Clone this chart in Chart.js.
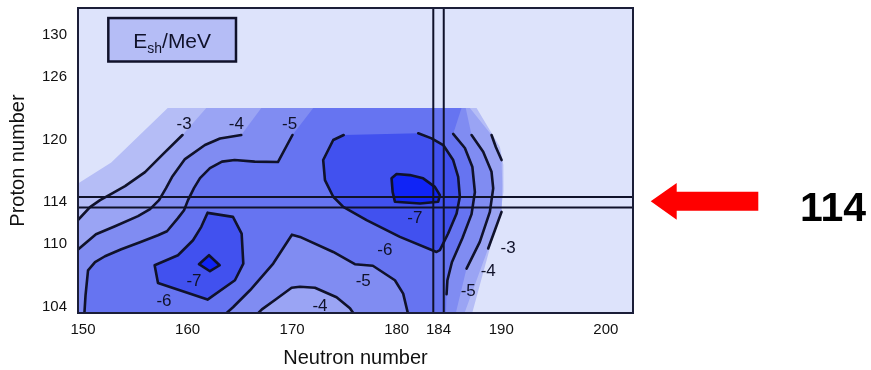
<!DOCTYPE html>
<html>
<head>
<meta charset="utf-8">
<script src="https://cdn.jsdelivr.net/npm/chart.js@4/dist/chart.umd.min.js"></script>
<style>
  html, body { margin: 0; padding: 0; background: #ffffff; }
  #wrap { width: 871px; height: 370px; }
</style>
</head>
<body>
<div id="wrap"><canvas id="c" width="871" height="370"></canvas></div>
<script>
// Axis extents and tick values (neutron number N, proton number Z)
const nRange = [149.52, 202.6];
const zRange = [103.43, 132.56];
const neutronTicks = [150, 160, 170, 180, 184, 190, 200];
const protonTicks = [104, 110, 114, 120, 126, 130];

// Magic numbers marked with double lines
const shellN = [183.5, 184.5];
const shellZ = [113.5, 114.5];
const highlightZ = 114;

// Upper edge of the calculated region
const domainTop = 123;

// Shell-correction contours, [N, Z] pairs
const m3Left = [[149.33,112.11],[150.67,113.54],[151.63,114.21],[152.58,114.74],[154.02,115.55],[155.93,116.89],[157.65,118.61],[159.51,120.43]];
const m3RightUpper = [[189.07,120.43],[189.48,119.28],[190.03,118.04]];
const m3RightLower = [[190.03,113.09],[189.39,111.34],[188.75,109.59]];

const m4Left = [[149.33,109.33],[151.24,110.95],[153.06,111.72],[155.26,112.68],[156.41,113.35],[157.27,114.21],[157.94,115.36],[158.51,116.41],[159.75,118.13],[161.66,119.47],[163.10,120.10],[165.13,120.43]];
const m4Right = [[187.16,120.43],[188.27,118.83],[189.07,116.92],[189.23,115.33],[188.91,113.09],[187.95,110.22],[186.68,107.67]];
const m4Bump = [[166.54,103.2],[167.11,103.78],[168.45,104.74],[169.95,105.84],[170.75,105.93],[172.18,105.84],[174.25,104.93],[175.53,103.88],[176.00,103.2]];

const m5Left = [[150.12,103.2],[150.24,105.12],[150.48,107.51],[151.15,108.28],[152.10,108.85],[153.66,109.52],[155.45,110.19],[157.17,110.86],[158.03,111.24],[159.08,112.49],[159.66,113.25],[160.04,114.21],[160.61,115.36],[161.19,116.31],[162.14,117.27],[163.29,117.89],[164.50,118.04],[166.42,117.89],[168.64,117.85],[170.03,120.43]];
const m5Right = [[185.40,120.53],[186.52,119.19],[187.24,117.37],[187.48,114.98],[187.16,112.87],[186.28,110.57],[185.28,108.28],[184.85,106.56],[184.77,105.22]];
const m5Bump = [[163.48,103.2],[164.37,104.00],[165.97,105.60],[168.19,108.15],[169.98,110.91],[170.75,110.70],[173.93,109.26],[176.00,108.09],[177.72,107.94],[179.83,106.56],[180.62,105.28],[181.12,103.2]];

const m6Left = [[161.91,112.99],[164.34,112.61],[165.17,111.02],[165.33,108.15],[164.53,106.56],[161.91,104.71],[157.17,106.30],[156.85,107.99],[159.08,108.95],[160.52,110.38],[161.31,111.66],[161.91,112.99]];
const m6Right = [[174.93,120.43],[173.93,119.95],[172.97,118.04],[173.14,116.12],[173.93,114.53],[174.89,113.57],[177.12,112.30],[180.31,110.70],[183.81,109.26],[184.13,109.43],[184.92,111.02],[185.73,112.94],[186.04,114.53],[185.88,116.44],[185.40,118.04],[184.45,119.47],[183.34,120.11],[182.06,120.59]];

const m7Left = [[161.09,108.09],[162.05,108.95],[163.07,107.99],[162.14,107.42],[161.09,108.09]];
const m7Right = [[179.51,116.29],[179.99,116.70],[181.26,116.60],[182.53,116.29],[183.65,115.48],[184.13,114.69],[183.97,114.05],[182.24,113.89],[179.83,114.05],[179.61,115.00],[179.51,116.29]];

// Outer (-2 MeV) shaded edge, no line drawn
const m2Outline = [[149.3,103.2],[149.3,115.65],[152.7,117.8],[158.1,123.0],[187.64,123.0],[189.87,119.29],[190.2,117.6],[190.21,115.0],[190.03,113.73],[187.16,103.2]];

// Where the shaded bands meet the top edge [left, right] and the bottom edge
const bandTopN = { m3: [161.79, 187.0], m4: [167.05, 186.6], m5: [172.02, 186.2] };
const bandBottomN = { m3: 186.4, m4: 185.6, m5: 184.7 };
const m3Gap = [190.1, 115.6];

// Contour labels: text, N, Z
const contourLabels = [
  ['-3', 159.66, 121.6], ['-4', 164.66, 121.6], ['-5', 169.76, 121.6],
  ['-6', 157.74, 104.64], ['-7', 160.61, 106.56],
  ['-5', 176.80, 106.56], ['-4', 172.66, 104.16],
  ['-6', 178.87, 109.59], ['-7', 181.74, 112.61],
  ['-3', 190.66, 109.74], ['-4', 188.75, 107.51], ['-5', 186.84, 105.60]
];

// Key box, in axis units
const keyBox = { n0: 152.42, n1: 164.63, z0: 127.45, z1: 131.6 };

// Colours
const BG = '#dde3fb';
const SHADES = ['#b5bdf6', '#9aa4f4', '#808cf2', '#6674f1', '#4151ef', '#1024f6'];
const LINE = '#10122a';
const FONT = "'Liberation Sans', Arial, sans-serif";

const bottomEdge = 103.2;
const leftEdge = 149.3;

const poly3 = [[leftEdge, bottomEdge], ...m3Left, [bandTopN.m3[0], domainTop], [bandTopN.m3[1], domainTop],
  ...m3RightUpper, m3Gap, ...m3RightLower, [bandBottomN.m3, bottomEdge]];
const poly4 = [[leftEdge, bottomEdge], ...m4Left, [bandTopN.m4[0], domainTop], [bandTopN.m4[1], domainTop],
  ...m4Right, [bandBottomN.m4, bottomEdge], ...m4Bump.slice().reverse()];
const poly5 = [...m5Left, [bandTopN.m5[0], domainTop], [bandTopN.m5[1], domainTop],
  ...m5Right, [bandBottomN.m5, bottomEdge], ...m5Bump.slice().reverse()];

const pts = arr => arr.map(([x, y]) => ({ x, y }));

function shade(arr, color, order) {
  return { data: pts(arr), fill: 'shape', backgroundColor: color, borderWidth: 0,
           borderColor: 'rgba(0,0,0,0)', order, clip: 0 };
}
function contour(arr, order, width) {
  return { data: pts(arr), fill: false, borderColor: LINE, borderWidth: width || 2.6,
           borderJoinStyle: 'round', borderCapStyle: 'round', order, clip: 0 };
}

const datasets = [
  shade(m2Outline, SHADES[0], 20),
  shade(poly3, SHADES[1], 19),
  shade(poly4, SHADES[2], 18),
  shade(poly5, SHADES[3], 17),
  shade(m6Left, SHADES[4], 16),
  shade(m6Right, SHADES[4], 16),
  shade(m7Left, SHADES[5], 15),
  shade(m7Right, SHADES[5], 15),
  contour(m3Left, 5), contour(m3RightUpper, 5), contour(m3RightLower, 5),
  contour(m4Left, 5), contour(m4Right, 5), contour(m4Bump, 5),
  contour(m5Left, 5), contour(m5Right, 5), contour(m5Bump, 5),
  contour(m6Left, 5), contour(m6Right, 5),
  contour(m7Left, 5), contour(m7Right, 5)
];
shellN.forEach(n => datasets.push(contour([[n, zRange[0] - 1], [n, zRange[1] + 1]], 3, 2)));
shellZ.forEach(z => datasets.push(contour([[nRange[0] - 1, z], [nRange[1] + 1, z]], 3, 2)));

const overlay = {
  id: 'overlay',
  beforeDatasetsDraw(chart) {
    const { ctx, chartArea: a } = chart;
    ctx.save();
    ctx.fillStyle = BG;
    ctx.fillRect(a.left, a.top, a.width, a.height);
    ctx.restore();
  },
  afterDatasetsDraw(chart) {
    const { ctx, chartArea: a, scales: { x, y } } = chart;
    ctx.save();
    // contour labels
    ctx.fillStyle = LINE;
    ctx.font = '17px ' + FONT;
    ctx.textAlign = 'center';
    ctx.textBaseline = 'alphabetic';
    contourLabels.forEach(([t, n, z]) => {
      ctx.fillText(t, x.getPixelForValue(n), y.getPixelForValue(z) + 6);
    });
    // key box
    const bx0 = x.getPixelForValue(keyBox.n0), bx1 = x.getPixelForValue(keyBox.n1);
    const by0 = y.getPixelForValue(keyBox.z1), by1 = y.getPixelForValue(keyBox.z0);
    ctx.fillStyle = SHADES[0];
    ctx.fillRect(bx0, by0, bx1 - bx0, by1 - by0);
    ctx.lineWidth = 2.5;
    ctx.strokeStyle = LINE;
    ctx.strokeRect(bx0, by0, bx1 - bx0, by1 - by0);
    const big = '21px ' + FONT, small = '14px ' + FONT;
    ctx.font = big; const wE = ctx.measureText('E').width; const wM = ctx.measureText('/MeV').width;
    ctx.font = small; const wS = ctx.measureText('sh').width;
    let tx = (bx0 + bx1) / 2 - (wE + wS + wM) / 2;
    const base = (by0 + by1) / 2 + 8;
    ctx.fillStyle = LINE;
    ctx.textAlign = 'left';
    ctx.font = big; ctx.fillText('E', tx, base); tx += wE;
    ctx.font = small; ctx.fillText('sh', tx, base + 5); tx += wS;
    ctx.font = big; ctx.fillText('/MeV', tx, base);
    // frame
    ctx.lineWidth = 2;
    ctx.strokeStyle = '#1b1e38';
    ctx.strokeRect(a.left, a.top, a.width, a.height);
    ctx.restore();
  },
  afterDraw(chart) {
    const { ctx, chartArea: a, scales: { y } } = chart;
    const yc = y.getPixelForValue(highlightZ) - 1;
    const x0 = a.right + 17.7;
    ctx.save();
    ctx.fillStyle = '#ff0000';
    ctx.beginPath();
    ctx.moveTo(x0, yc);
    ctx.lineTo(x0 + 26, yc - 18.3);
    ctx.lineTo(x0 + 26, yc - 9.5);
    ctx.lineTo(x0 + 107.6, yc - 9.5);
    ctx.lineTo(x0 + 107.6, yc + 9.5);
    ctx.lineTo(x0 + 26, yc + 9.5);
    ctx.lineTo(x0 + 26, yc + 18.3);
    ctx.closePath();
    ctx.fill();
    ctx.fillStyle = '#000000';
    ctx.font = "bold 41px 'Liberation Sans', Arial, sans-serif";
    ctx.textAlign = 'center';
    ctx.textBaseline = 'alphabetic';
    ctx.fillText(String(highlightZ), a.right + 200, yc + 19.5);
    ctx.restore();
  }
};

const tickFont = { family: FONT, size: 15 };
const titleFont = { family: FONT, size: 20 };

new Chart(document.getElementById('c'), {
  type: 'line',
  data: { datasets },
  plugins: [overlay],
  options: {
    responsive: false,
    animation: false,
    events: [],
    layout: { padding: { top: 8, right: 238, left: 0, bottom: 0 } },
    elements: { point: { radius: 0, hoverRadius: 0 }, line: { tension: 0 } },
    plugins: { legend: { display: false }, tooltip: { enabled: false } },
    scales: {
      x: {
        type: 'linear', min: nRange[0], max: nRange[1],
        afterBuildTicks: s => { s.ticks = neutronTicks.map(v => ({ value: v })); },
        afterFit: s => { s.height = 57; s.paddingLeft = 0; s.paddingRight = 0; },
        ticks: { autoSkip: false, maxRotation: 0, padding: 8, color: '#111111', font: tickFont,
                 callback: v => String(v) },
        grid: { display: false, drawTicks: false },
        border: { display: false },
        title: { display: true, text: 'Neutron number', color: '#111111', font: titleFont,
                 padding: { top: 0, bottom: 0 } }
      },
      y: {
        type: 'linear', min: zRange[0], max: zRange[1],
        afterBuildTicks: s => { s.ticks = protonTicks.map(v => ({ value: v })); },
        afterFit: s => { s.width = 78; s.paddingTop = 0; s.paddingBottom = 0; },
        ticks: { autoSkip: false, padding: 11, color: '#111111', font: tickFont,
                 callback: v => String(v) },
        grid: { display: false, drawTicks: false },
        border: { display: false },
        title: { display: true, text: 'Proton number', color: '#111111', font: titleFont,
                 padding: { top: 6, bottom: 0 } }
      }
    }
  }
});
</script>
</body>
</html>
